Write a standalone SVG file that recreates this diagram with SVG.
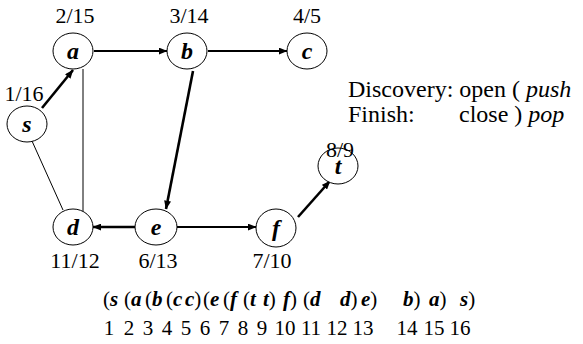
<svg xmlns="http://www.w3.org/2000/svg" width="583" height="344" viewBox="0 0 583 344">
  <defs>
    <marker id="arr" viewBox="0 0 10 8" refX="9.5" refY="4" markerWidth="9" markerHeight="7" markerUnits="userSpaceOnUse" orient="auto">
      <path d="M0,0 L10,4 L0,8 z" fill="#000"/>
    </marker>
  </defs>
  <style>
    .node ellipse { fill: #fff; stroke: #000; stroke-width: 1; }
    .lbl { font-family: "Liberation Serif", "Times New Roman", serif; font-size: 24px; font-weight: bold; font-style: italic; text-anchor: middle; }
    .num { font-family: "Liberation Serif", "Times New Roman", serif; font-size: 22px; text-anchor: middle; }
    .tree { stroke: #000; stroke-width: 2.6; fill: none; }
    .fwd { stroke: #000; stroke-width: 2; fill: none; }
    .thin { stroke: #000; stroke-width: 1; fill: none; }
    .legend { font-family: "Liberation Serif", "Times New Roman", serif; font-size: 24px; }
    .seq { font-family: "Liberation Serif", "Times New Roman", serif; font-size: 21px; }
    .seq .n { text-anchor: middle; }
    .seq .v { font-weight: bold; font-style: italic; }
    .it { font-style: italic; }
  </style>

  <!-- edges -->
  <g id="connectors">
    <line class="thin" x1="83" y1="69" x2="83" y2="211"/>
    <line class="thin" x1="32" y1="141" x2="63" y2="210"/>
    <line class="tree" x1="42" y1="108" x2="73" y2="70" marker-end="url(#arr)"/>
    <line class="fwd" x1="94" y1="51" x2="167" y2="51" marker-end="url(#arr)"/>
    <line class="fwd" x1="208" y1="51" x2="287" y2="51" marker-end="url(#arr)"/>
    <line class="tree" x1="193" y1="71" x2="166" y2="209" marker-end="url(#arr)"/>
    <line class="tree" x1="135" y1="227" x2="93" y2="227" marker-end="url(#arr)"/>
    <line class="fwd" x1="177" y1="227" x2="256" y2="227" marker-end="url(#arr)"/>
    <line class="tree" x1="298" y1="217" x2="330" y2="181" marker-end="url(#arr)"/>
  </g>

  <!-- vertices with discovery/finish times -->
  <g id="node-s" class="node">
    <ellipse cx="27" cy="124" rx="20" ry="18"/>
    <text class="lbl" x="27" y="132">s</text>
    <text class="num" x="24" y="101">1/16</text>
  </g>
  <g id="node-a" class="node">
    <ellipse cx="73" cy="51" rx="20" ry="18"/>
    <text class="lbl" x="73" y="59">a</text>
    <text class="num" x="75" y="23">2/15</text>
  </g>
  <g id="node-b" class="node">
    <ellipse cx="187" cy="51" rx="20" ry="18"/>
    <text class="lbl" x="187" y="59">b</text>
    <text class="num" x="189" y="23">3/14</text>
  </g>
  <g id="node-c" class="node">
    <ellipse cx="307" cy="51" rx="20" ry="18"/>
    <text class="lbl" x="307" y="59">c</text>
    <text class="num" x="307" y="23">4/5</text>
  </g>
  <g id="node-d" class="node">
    <ellipse cx="73" cy="227" rx="20" ry="18"/>
    <text class="lbl" x="73" y="235">d</text>
    <text class="num" x="75" y="268">11/12</text>
  </g>
  <g id="node-e" class="node">
    <ellipse cx="156" cy="227" rx="21" ry="18"/>
    <text class="lbl" x="156" y="235">e</text>
    <text class="num" x="158" y="268">6/13</text>
  </g>
  <g id="node-f" class="node">
    <ellipse cx="276" cy="228" rx="20" ry="19"/>
    <text class="lbl" x="276" y="236">f</text>
    <text class="num" x="272" y="268">7/10</text>
  </g>
  <g id="node-t" class="node">
    <ellipse cx="338" cy="166" rx="20" ry="18"/>
    <text class="lbl" x="338" y="174">t</text>
    <text class="num" x="340" y="157">8/9</text>
  </g>

  <!-- legend -->
  <g id="legend" class="legend">
    <text x="348" y="97">Discovery: open ( <tspan class="it">push</tspan></text>
    <text x="348" y="122">Finish:</text>
    <text x="459" y="122">close ) <tspan class="it">pop</tspan></text>
  </g>

  <!-- parenthesis structure -->
  <g id="sequence" class="seq">
    <text x="103" y="306">(<tspan class="v">s</tspan></text>
    <text x="124" y="306">(<tspan class="v">a</tspan></text>
    <text x="145" y="306">(<tspan class="v">b</tspan></text>
    <text x="166" y="306">(<tspan class="v">c</tspan></text>
    <text x="185" y="306"><tspan class="v">c</tspan>)</text>
    <text x="203" y="306">(<tspan class="v">e</tspan></text>
    <text x="223" y="306">(<tspan class="v">f</tspan></text>
    <text x="243" y="306">(<tspan class="v">t</tspan></text>
    <text x="263" y="306"><tspan class="v">t</tspan>)</text>
    <text x="283" y="306"><tspan class="v">f</tspan>)</text>
    <text x="303" y="306">(<tspan class="v">d</tspan></text>
    <text x="340" y="306"><tspan class="v">d</tspan>)</text>
    <text x="361" y="306"><tspan class="v">e</tspan>)</text>
    <text x="403" y="306"><tspan class="v">b</tspan>)</text>
    <text x="429" y="306"><tspan class="v">a</tspan>)</text>
    <text x="460" y="306"><tspan class="v">s</tspan>)</text>

    <text class="n" x="109" y="335">1</text>
    <text class="n" x="129" y="335">2</text>
    <text class="n" x="148" y="335">3</text>
    <text class="n" x="167" y="335">4</text>
    <text class="n" x="186" y="335">5</text>
    <text class="n" x="205" y="335">6</text>
    <text class="n" x="224" y="335">7</text>
    <text class="n" x="243" y="335">8</text>
    <text class="n" x="262" y="335">9</text>
    <text class="n" x="285" y="335">10</text>
    <text class="n" x="311" y="335">11</text>
    <text class="n" x="337" y="335">12</text>
    <text class="n" x="363" y="335">13</text>
    <text class="n" x="407" y="335">14</text>
    <text class="n" x="434" y="335">15</text>
    <text class="n" x="460" y="335">16</text>
  </g>
</svg>
